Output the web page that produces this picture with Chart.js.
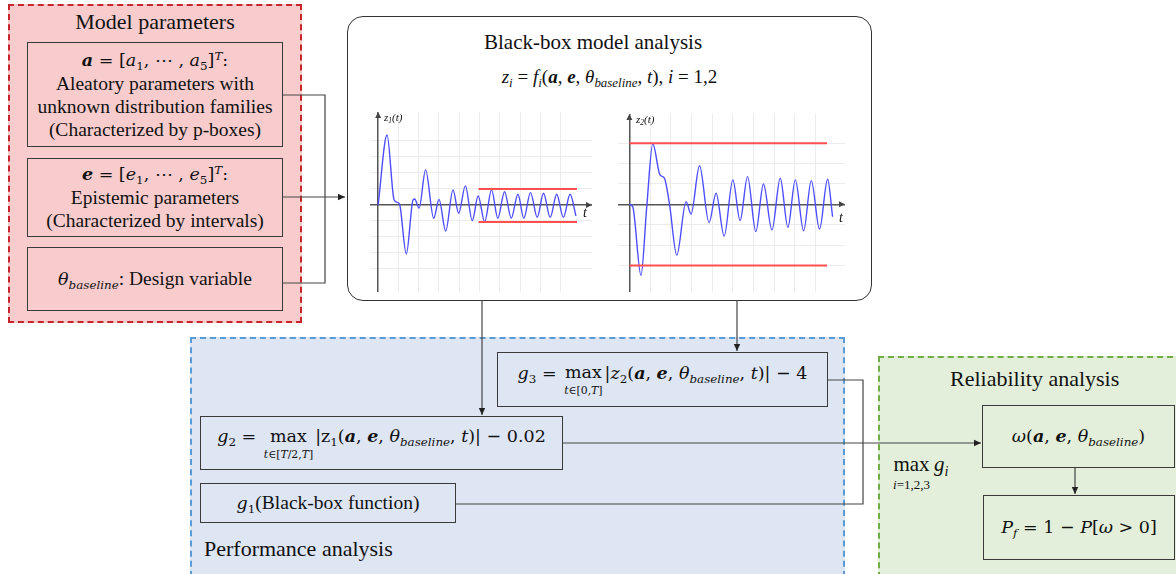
<!DOCTYPE html>
<html lang="en">
<head>
<meta charset="UTF-8">
<title>Black-box reliability analysis flow</title>
<script src="https://cdn.jsdelivr.net/npm/chart.js"></script>
<style>
  body { margin: 0; background: #fff; }
  #page { position: relative; width: 1176px; height: 574px; overflow: hidden;
          font-family: 'Liberation Serif', 'Times New Roman', Tinos, 'DejaVu Serif', 'Noto Serif', Times, serif; color: #111; }
  .abs { position: absolute; box-sizing: border-box; }
  .group-red { left: 8px; top: 4px; width: 294px; height: 319px; background: #f8cccc; border: 2px dashed #c4262b; }
  .group-blue { left: 190px; top: 337px; width: 655px; height: 240px; background: #dee6f4; border: 2px dashed #5b9bd5; }
  .group-green { left: 878px; top: 356px; width: 305px; height: 222px; background: #e3efda; border: 2px dashed #70ad47; }
  .bbox { left: 347px; top: 16px; width: 525px; height: 285px; background: #fff; border: 1.5px solid #333; border-radius: 16px; }
  .box { border: 1.5px solid #3a3a3a; display: flex; flex-direction: column; justify-content: center;
         align-items: center; text-align: center; font-size: 19.5px; line-height: 23px; }
  .title { font-size: 22px; text-align: center; white-space: nowrap; }
  .m { font-family: 'DejaVu Serif', 'Liberation Serif', serif; font-size: 17.5px; white-space: nowrap; }
  sub { font-size: 0.68em; vertical-align: -0.32em; line-height: 0; }
  sup { font-size: 0.68em; vertical-align: 0.5em; line-height: 0; }
  .mx { display: inline-block; text-align: center; line-height: 1.25; vertical-align: -0.87em;
        margin: 0 2px; font-style: normal; }
  .mx .lim { display: block; font-size: 0.62em; line-height: 1.2; white-space: nowrap; }
  .lbl { font-style: italic; white-space: nowrap; }
  canvas { position: absolute; }
  svg { position: absolute; left: 0; top: 0; pointer-events: none; }
</style>
</head>
<body>
<div id="page">
  <div class="abs group-red"></div>
  <div class="abs title" style="left:8px; width:294px; top:9px;">Model parameters</div>
  <div class="abs box" style="left:27px; top:42px; width:256px; height:105px;">
    <div class="m"><b><i>a</i></b> = [<i>a</i><sub>1</sub>, ⋯ , <i>a</i><sub>5</sub>]<sup><i>T</i></sup>:</div>
    <div>Aleatory parameters with</div>
    <div>unknown distribution families</div>
    <div>(Characterized by p-boxes)</div>
  </div>
  <div class="abs box" style="left:27px; top:158px; width:256px; height:79px;">
    <div class="m"><b><i>e</i></b> = [<i>e</i><sub>1</sub>, ⋯ , <i>e</i><sub>5</sub>]<sup><i>T</i></sup>:</div>
    <div>Epistemic parameters</div>
    <div>(Characterized by intervals)</div>
  </div>
  <div class="abs box" style="left:27px; top:247px; width:256px; height:64px;">
    <div><span class="m"><i>θ</i><sub><i>baseline</i></sub></span>: Design variable</div>
  </div>

  <div class="abs bbox"></div>
  <div class="abs title" style="left:484px; top:30px; text-align:left; font-size:21px;">Black-box model analysis</div>
  <div class="abs title" style="left:347px; width:525px; top:66px; font-size:19px;">
    <i>z<sub>i</sub></i> = <i>f<sub>i</sub></i>(<b><i>a</i></b>, <b><i>e</i></b>, <i>θ</i><sub><i>baseline</i></sub>, <i>t</i>), <i>i</i> = 1,2
  </div>
  <canvas id="c1" width="222" height="180" style="left:370px; top:112px;"></canvas>
  <canvas id="c2" width="227" height="178" style="left:618px; top:114px;"></canvas>
  <div class="abs lbl" style="left:384px; top:111px; font-size:11px;"><i>z</i><sub>1</sub>(<i>t</i>)</div>
  <div class="abs lbl" style="left:636px; top:113px; font-size:11px;"><i>z</i><sub>2</sub>(<i>t</i>)</div>
  <div class="abs lbl" style="left:583px; top:205px; font-size:14px;">t</div>
  <div class="abs lbl" style="left:839px; top:210px; font-size:14px;">t</div>

  <div class="abs group-blue"></div>
  <div class="abs box" style="left:497px; top:352px; width:331px; height:55px; background:#dee6f4;">
    <div class="m"><i>g</i><sub>3</sub> = <span class="mx">max<span class="lim"><i>t</i>∈[0,<i>T</i>]</span></span>|<i>z</i><sub>2</sub>(<b><i>a</i></b>, <b><i>e</i></b>, <i>θ</i><sub><i>baseline</i></sub>, <i>t</i>)| − 4</div>
  </div>
  <div class="abs box" style="left:200px; top:416px; width:363px; height:54px; background:#dee6f4;">
    <div class="m"><i>g</i><sub>2</sub> = <span class="mx">max<span class="lim"><i>t</i>∈[<i>T</i>/2,<i>T</i>]</span></span>|z<sub>1</sub>(<b><i>a</i></b>, <b><i>e</i></b>, <i>θ</i><sub><i>baseline</i></sub>, <i>t</i>)| − 0.02</div>
  </div>
  <div class="abs box" style="left:200px; top:483px; width:256px; height:40px; background:#dee6f4;">
    <div><span class="m"><i>g</i><sub>1</sub></span>(Black-box function)</div>
  </div>
  <div class="abs title" style="left:204px; top:536px; text-align:left;">Performance analysis</div>

  <div class="abs group-green"></div>
  <div class="abs title" style="left:950px; width:166px; top:366px;">Reliability analysis</div>
  <div class="abs box" style="left:982px; top:405px; width:193px; height:63px;">
    <div class="m"><i>ω</i>(<b><i>a</i></b>, <b><i>e</i></b>, <i>θ</i><sub><i>baseline</i></sub>)</div>
  </div>
  <div class="abs box" style="left:983px; top:495px; width:192px; height:65px;">
    <div class="m"><i>P<sub>f</sub></i> = 1 − <i>P</i>[<i>ω</i> &gt; 0]</div>
  </div>
  <div class="abs" style="left:893px; top:451px; font-size:21px; line-height:24px; white-space:nowrap;">
    <span class="mx" style="margin:0 4px 0 0;">max<span class="lim"><i>i</i>=1,2,3</span></span><i>g<sub>i</sub></i>
  </div>

  <svg width="1176" height="574">
    <defs>
      <marker id="ah" markerWidth="8" markerHeight="8" refX="7" refY="4" orient="auto" markerUnits="userSpaceOnUse">
        <path d="M0,0.8 L7,4 L0,7.2 Z" fill="#222"/>
      </marker>
    </defs>
    <g stroke="#444" stroke-width="1.2" fill="none">
      <polyline points="283,95 325,95 325,283 283,283"/>
      <line x1="283" y1="197" x2="345" y2="197" marker-end="url(#ah)"/>
      <line x1="482" y1="300" x2="482" y2="415" marker-end="url(#ah)"/>
      <line x1="737" y1="300" x2="737" y2="351" marker-end="url(#ah)"/>
      <polyline points="828,380 863,380 863,504 456,504"/>
      <line x1="563" y1="443" x2="981" y2="443" marker-end="url(#ah)"/>
      <line x1="1075" y1="468" x2="1075" y2="494" marker-end="url(#ah)"/>
    </g>
  </svg>
</div>

<script>
  // z1(t): response, extrema
  const z1T = [0, 0.44, 0.79, 0.98, 1.07, 1.39, 1.72, 1.8, 2.02, 2.34, 2.74, 3.0, 3.33, 3.69, 3.97,
               4.3, 4.64, 4.93, 5.25, 5.59, 5.9, 6.23, 6.56, 6.89, 7.18, 7.51, 7.84, 8.15, 8.48,
               8.8, 9.13, 9.46, 9.75];
  const z1V = [0, 4.37, 0.31, 0.15, 0, -3.06, 0.31, 0.37, -0.2, 2.19, -0.83, 0.35, -1.63, 0.94, -0.52,
               1.19, -0.98, 0.56, -1.06, 0.94, -0.83, 0.83, -0.83, 0.67, -0.83, 0.77, -0.77, 0.73, -0.77,
               0.67, -0.77, 0.67, -0.69];
  const z1BandT = [4.95, 9.8];
  const z1Upper = [1.0, 1.0];
  const z1Lower = [-1.06, -1.06];

  // z2(t)
  const z2T = [0, 0.16, 0.56, 0.84, 1.13, 1.48, 1.69, 1.94, 2.29, 2.74, 2.98, 3.39, 3.85, 4.19, 4.58,
               5.0, 5.35, 5.71, 6.11, 6.48, 6.89, 7.29, 7.66, 8.02, 8.42, 8.79, 9.19, 9.58, 9.82];
  const z2V = [0, -0.11, -3.48, -0.11, 2.97, 1.44, 1.28, 0, -2.49, 0.13, -0.48, 1.89, -0.9, 0.54, -1.56,
               1.2, -0.8, 1.36, -1.34, 1.0, -1.26, 1.28, -1.13, 1.2, -1.3, 1.16, -1.21, 1.23, -0.61];
  const z2BandT = [0, 9.55];
  const z2Upper = [3.0, 3.0];
  const z2Lower = [-3.0, -3.0];

  const waveColor = '#4d4dff';
  const bandColor = '#ff4f4f';

  const arrowPlugin = {
    id: 'axisArrows',
    afterDraw(chart) {
      const ctx = chart.ctx;
      const xs = chart.scales.x, ys = chart.scales.y;
      const x0 = xs.getPixelForValue(0), y0 = ys.getPixelForValue(0);
      ctx.save();
      ctx.fillStyle = '#444';
      ctx.beginPath();
      ctx.moveTo(xs.right, y0);
      ctx.lineTo(xs.right - 6, y0 - 3);
      ctx.lineTo(xs.right - 6, y0 + 3);
      ctx.fill();
      ctx.beginPath();
      ctx.moveTo(x0, ys.top);
      ctx.lineTo(x0 - 3, ys.top + 6);
      ctx.lineTo(x0 + 3, ys.top + 6);
      ctx.fill();
      ctx.restore();
    }
  };

  function pts(ts, vs) {
    return ts.map((t, i) => ({ x: t, y: vs[i] }));
  }

  function gridColor(ctx) {
    return ctx.tick && Number.isInteger(ctx.tick.value) ? '#ececec' : 'transparent';
  }

  function miniChart(id, waveT, waveV, bandT, upper, lower, xRange, yRange) {
    new Chart(document.getElementById(id), {
      type: 'line',
      data: {
        datasets: [
          { data: pts(bandT, upper), borderColor: bandColor, borderWidth: 2, pointRadius: 0 },
          { data: pts(bandT, lower), borderColor: bandColor, borderWidth: 2, pointRadius: 0 },
          { data: pts(waveT, waveV), borderColor: waveColor, borderWidth: 1.4, pointRadius: 0,
            cubicInterpolationMode: 'monotone' }
        ]
      },
      options: {
        responsive: false,
        animation: false,
        events: [],
        layout: { padding: 0 },
        plugins: { legend: { display: false }, tooltip: { enabled: false } },
        scales: {
          x: {
            type: 'linear', min: xRange[0], max: xRange[1], position: { y: 0 },
            ticks: { display: false, stepSize: 1 },
            grid: { color: gridColor, drawTicks: false },
            border: { color: '#555', width: 1.5 }
          },
          y: {
            type: 'linear', min: yRange[0], max: yRange[1], position: { x: 0 },
            ticks: { display: false, stepSize: 1 },
            grid: { color: gridColor, drawTicks: false },
            border: { color: '#555', width: 1.5 }
          }
        }
      },
      plugins: [arrowPlugin]
    });
  }

  miniChart('c1', z1T, z1V, z1BandT, z1Upper, z1Lower, [-0.4, 10.54], [-5.44, 5.81]);
  miniChart('c2', z2T, z2V, z2BandT, z2Upper, z2Lower, [-0.55, 10.42], [-4.3, 4.43]);
</script>
</body>
</html>
